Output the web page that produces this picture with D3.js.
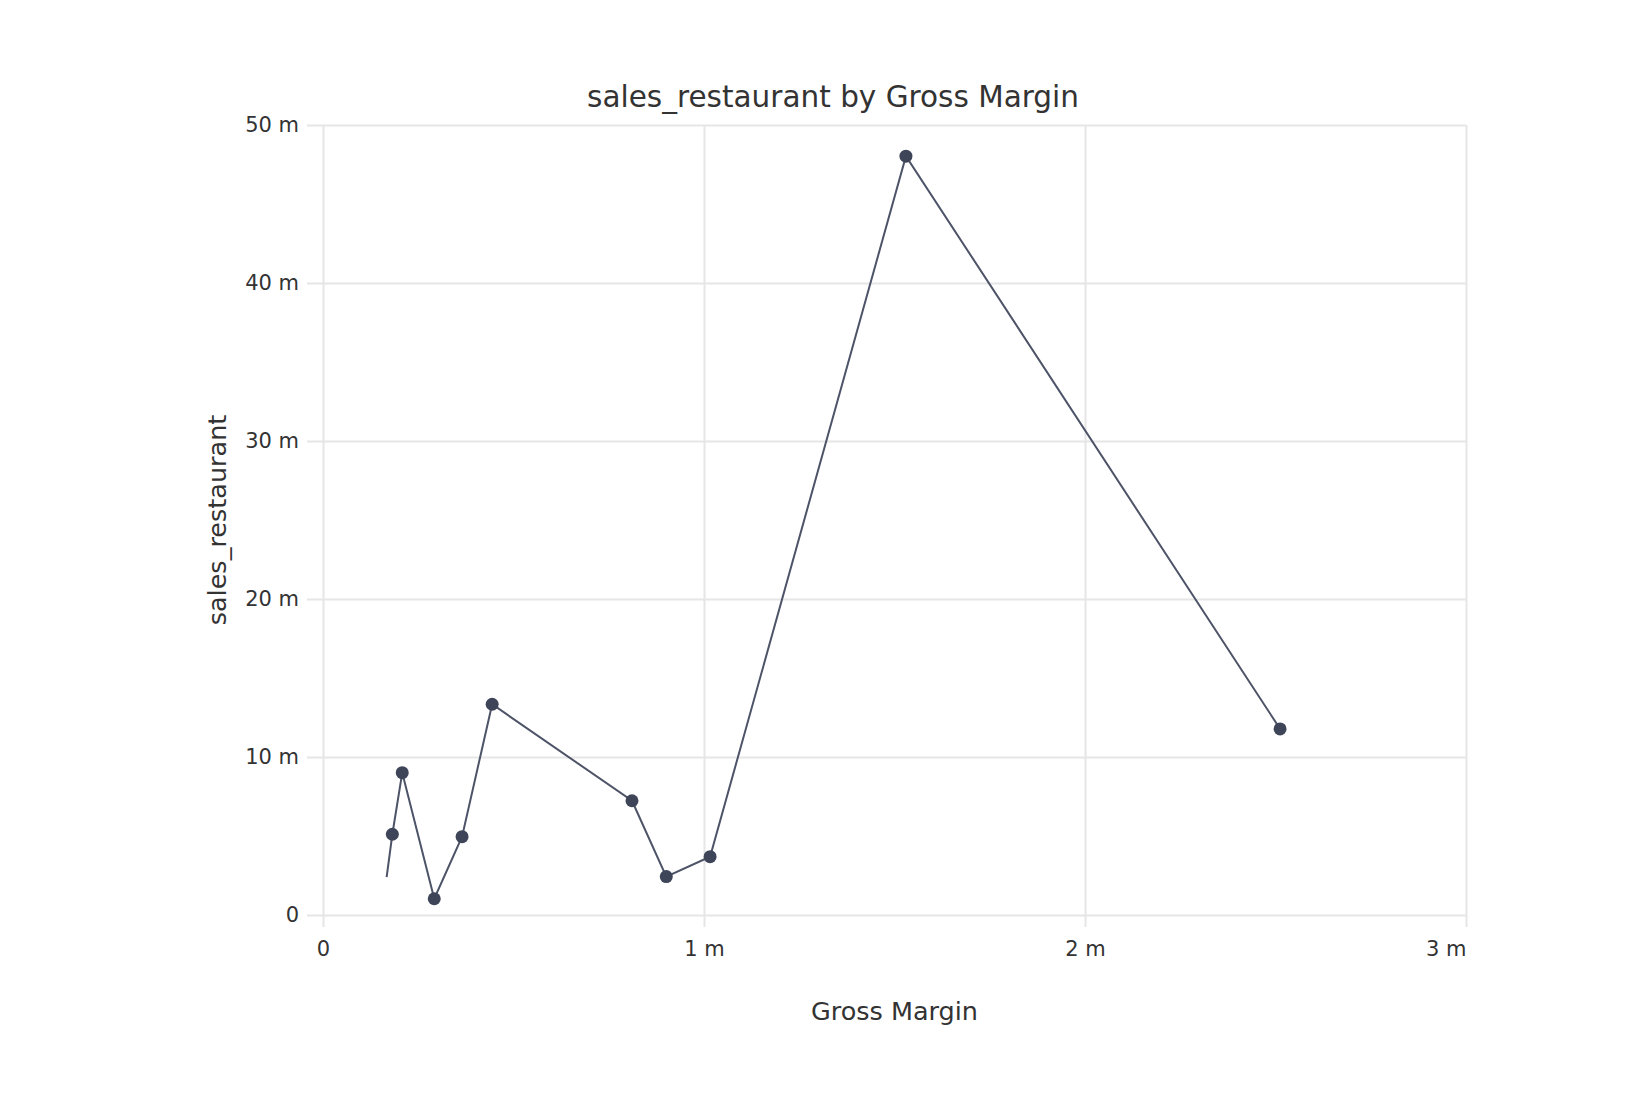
<!DOCTYPE html>
<html>
<head>
<meta charset="utf-8">
<script src="https://cdn.jsdelivr.net/npm/d3@7"></script>
<style>
  html, body { margin: 0; padding: 0; background: #fff; }
  svg { display: block; font-family: "DejaVu Sans", Verdana, sans-serif; }
</style>
</head>
<body>
<svg id="chart" width="1648" height="1114"></svg>
<script>
// ---- data ----
const grossMargin = [167000, 182000, 208000, 292000, 365000, 444000, 811000, 901000, 1016000, 1530000, 2512000];
const salesRestaurant = [2390000, 5110000, 9010000, 1030000, 4960000, 13340000, 7230000, 2430000, 3690000, 48030000, 11780000];
const xTicks = [0, 1000000, 2000000, 3000000];
const yTicks = [0, 10000000, 20000000, 30000000, 40000000, 50000000];
const titleText = "sales_restaurant by Gross Margin";
const xTitle = "Gross Margin";
const yTitle = "sales_restaurant";

(function () {
const data = grossMargin.map((g, i) => ({ x: g, y: salesRestaurant[i] }));

const svg = d3.select("#chart");
const mLeft = 323, mRight = 1466, mTop = 125, mBottom = 915;

const x = d3.scaleLinear().domain([0, 3000000]).range([mLeft, mRight]);
const y = d3.scaleLinear().domain([0, 50000000]).range([mBottom, mTop]);
const fmt = d => d === 0 ? "0" : (d / 1e6) + " m";

const gridColor = "#e6e6e6";
const textColor = "#333";

// horizontal grid + y ticks
const yAxis = d3.axisLeft(y).tickValues(yTicks).tickFormat(fmt)
  .tickSize(-(mRight - mLeft)).tickPadding(24);
const gy = svg.append("g").attr("transform", `translate(${mLeft},0)`).call(yAxis);
gy.select(".domain").remove();
gy.selectAll(".tick line").attr("x1", -16).attr("stroke", gridColor).attr("stroke-width", 2);
gy.selectAll(".tick text").attr("x", -24).attr("fill", textColor)
  .style("font-size", "21px").style("font-family", "DejaVu Sans, sans-serif");

// vertical grid + x ticks
const xAxis = d3.axisBottom(x).tickValues(xTicks).tickFormat(fmt)
  .tickSize(-(mBottom - mTop)).tickPadding(20);
const gx = svg.append("g").attr("transform", `translate(0,${mBottom})`).call(xAxis);
gx.select(".domain").remove();
gx.selectAll(".tick line").attr("y1", 12).attr("stroke", gridColor).attr("stroke-width", 2);
gx.selectAll(".tick text").attr("y", 26).attr("dy", "0.71em").attr("fill", textColor)
  .style("font-size", "21px").style("font-family", "DejaVu Sans, sans-serif")
  .attr("text-anchor", (d, i, n) => i === n.length - 1 ? "end" : "middle");

// line
const line = d3.line().x(d => x(d.x)).y(d => y(d.y));
svg.append("path").datum(data)
  .attr("d", line)
  .attr("fill", "none")
  .attr("stroke", "#4e5468")
  .attr("stroke-width", 2);

// markers (the first point has no marker in the reference)
svg.append("g").selectAll("circle").data(data.slice(1)).join("circle")
  .attr("cx", d => x(d.x)).attr("cy", d => y(d.y))
  .attr("r", 6.5).attr("fill", "#3e4558");

// title
svg.append("text").attr("x", 833).attr("y", 107)
  .attr("text-anchor", "middle").attr("fill", textColor)
  .style("font-size", "29.5px").text(titleText);

// x title
svg.append("text").attr("x", (mLeft + mRight) / 2).attr("y", 1020)
  .attr("text-anchor", "middle").attr("fill", textColor)
  .style("font-size", "25.5px").text(xTitle);

// y title
svg.append("text")
  .attr("transform", `translate(226,${(mTop + mBottom) / 2}) rotate(-90)`)
  .attr("text-anchor", "middle").attr("fill", textColor)
  .style("font-size", "25.5px").text(yTitle);
})();
</script>
</body>
</html>
